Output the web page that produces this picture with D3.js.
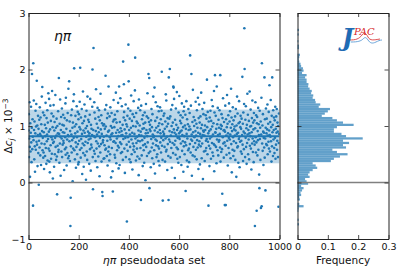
<!DOCTYPE html>
<html><head><meta charset="utf-8">
<script src="https://cdn.jsdelivr.net/npm/d3@7/dist/d3.min.js"></script>
<style>body{margin:0;background:#fff}svg{display:block;font-family:"DejaVu Sans",sans-serif}</style>
</head><body><svg id="c" width="399" height="266"></svg>
<script>
// Δc_j × 10^-3 for each ηπ pseudodata set (index = set number)
const deltaC = [
0.92,1.21,0.45,0.78,1.42,0.63,0.1,1.05,0.55,0.88,1.34,0.71,0.36,0.97,1.92,0.59,1.12,0.81,-0.41,2.11,
0.75,1.45,0.93,0.41,1.08,0.64,0.19,0.87,1.27,0.58,0.99,1.39,0.72,1.80,0.67,1.01,0.29,0.84,1.18,0.52,
0.95,-0.04,0.74,1.11,0.62,1.33,0.86,0.48,1.15,0.83,0.31,1.03,0.69,1.52,0.91,1.69,0.57,0.79,1.24,0.44,
0.53,0.89,0.24,1.19,0.68,1.02,0.47,0.82,1.41,0.61,0.96,0.33,1.14,0.73,0.85,1.28,0.39,1.06,0.77,1.58,
0.6,0.9,1.48,0.37,0.56,0.18,0.94,1.36,0.66,1.09,0.42,0.8,1.22,0.51,1.62,0.76,0.98,0.07,0.7,1.17,
1.37,0.72,0.28,0.92,1.07,0.5,0.79,1.55,0.63,0.97,0.4,0.83,1.13,0.46,-0.21,1.0,0.65,0.87,1.26,0.54,
0.58,1.85,0.86,0.35,1.04,0.69,1.47,0.81,0.12,0.93,1.16,0.55,0.78,1.31,0.45,1.02,0.67,0.89,1.2,0.74,
0.7,1.01,0.22,0.88,1.14,0.59,0.8,1.4,0.49,1.5,0.62,0.95,0.3,1.1,0.76,0.52,1.23,0.84,0.43,1.66,
0.82,0.47,1.79,0.73,1.08,0.38,0.91,-0.77,-0.27,0.64,1.19,0.85,0.53,1.29,0.75,0.97,0.02,1.06,0.6,1.44,
0.79,1.56,2.02,0.57,0.99,0.41,0.87,1.18,0.71,0.26,1.03,0.63,1.35,0.8,0.5,0.9,1.25,0.68,0.32,1.12,
0.36,1.21,0.74,0.98,1.43,0.58,2.03,0.94,0.44,1.15,0.77,0.61,1.3,0.86,0.15,1.05,0.69,1.61,0.52,0.92,
0.28,1.09,0.66,1.38,0.88,0.48,1.17,0.72,0.96,0.05,0.81,1.27,0.55,1.0,0.4,1.52,0.7,0.9,1.11,0.83,
0.76,1.07,0.33,0.87,1.2,0.59,1.48,0.78,0.21,1.02,0.67,0.95,0.62,0.84,1.34,2.0,0.45,-0.12,0.93,2.38,
0.82,0.56,1.42,1.24,0.51,0.8,1.13,0.38,0.91,1.65,0.73,0.6,1.04,0.85,0.27,1.32,0.69,0.97,0.46,1.16,
0.89,1.28,0.64,0.11,1.1,0.79,0.53,1.57,0.94,0.68,1.19,0.37,0.86,1.05,-0.17,-0.24,0.71,0.75,1.01,0.42,
0.81,1.03,0.43,0.66,0.95,1.29,0.58,1.89,0.99,0.6,1.37,0.83,0.47,1.14,0.74,0.3,1.22,0.9,0.55,1.7,
0.63,0.92,0.39,1.17,0.8,0.5,1.33,0.76,1.0,0.09,0.85,1.23,0.61,0.97,0.87,0.2,-0.16,1.08,0.72,1.46,
1.11,0.73,0.98,0.49,1.2,0.44,1.12,0.7,1.59,0.88,0.34,1.06,0.78,0.57,1.26,0.93,0.65,1.41,0.82,0.25,
0.62,1.7,0.89,0.31,1.07,0.71,1.49,0.96,0.52,0.83,0.68,0.91,1.35,0.54,0.84,1.02,0.4,2.14,0.77,1.15,
1.74,1.25,0.6,0.94,0.17,1.1,0.79,1.38,0.45,0.87,1.03,0.67,-0.69,0.99,1.18,0.56,0.8,1.31,2.44,1.79,
0.72,0.93,0.41,1.13,0.85,0.63,1.27,0.36,0.97,1.54,0.76,0.5,1.09,0.88,0.23,1.21,0.69,1.0,0.58,1.44,
0.64,1.16,0.86,0.54,1.63,2.21,0.78,0.99,0.39,1.23,0.7,1.08,0.6,0.81,0.46,1.05,0.74,1.32,0.92,0.13,
1.47,0.84,0.42,1.01,0.73,1.28,0.61,0.9,-0.31,1.36,0.83,0.48,1.12,0.75,0.95,0.29,1.19,0.66,1.04,0.57,
0.96,0.35,0.79,1.24,0.68,1.06,0.04,0.87,1.39,0.63,0.93,1.17,0.47,0.82,1.58,0.71,0.88,1.14,1.92,0.52,
1.07,1.85,-0.1,0.94,1.02,0.55,0.91,0.27,1.1,0.77,1.3,0.62,0.98,0.43,1.21,0.85,0.69,1.52,0.8,0.33,
0.82,0.57,1.68,0.92,0.16,1.09,0.76,1.42,0.66,0.97,0.45,0.74,1.15,0.5,1.35,0.89,0.64,1.0,0.38,1.26,
0.6,1.05,0.3,0.93,1.33,0.71,0.87,1.12,0.53,0.79,1.27,1.96,0.65,1.03,0.4,-0.32,0.9,0.75,1.18,0.84,
0.86,1.22,0.63,0.95,0.37,1.08,0.78,1.56,0.55,1.45,0.58,0.99,0.81,0.22,1.14,0.68,1.04,0.47,-0.31,1.86,
0.76,1.13,0.91,2.01,0.72,1.17,0.44,0.83,1.29,0.61,1.0,0.26,0.89,1.37,0.7,1.06,0.52,1.7,1.68,0.94,
1.48,0.67,0.88,0.08,1.11,0.74,0.49,1.31,0.85,1.02,0.62,1.6,0.93,0.42,0.79,0.59,0.97,0.35,1.24,0.8,
0.87,1.53,0.77,0.45,1.09,0.9,1.19,0.69,1.05,0.31,0.92,1.4,0.56,0.84,1.15,0.73,0.98,0.19,1.26,0.64,
1.34,0.82,0.5,1.01,0.71,1.2,-0.15,0.95,0.66,1.44,0.86,0.39,1.12,0.78,0.28,1.03,0.57,1.3,0.93,0.6,
0.36,0.99,1.23,0.68,2.25,0.94,0.53,1.36,0.76,1.92,0.85,0.12,0.74,1.07,0.48,1.64,0.89,0.63,1.16,0.81,
1.0,0.8,0.46,1.1,0.7,0.91,1.43,0.58,0.83,1.04,0.41,1.28,0.75,0.97,0.62,1.5,0.88,0.24,1.14,0.67,
1.38,0.73,1.06,0.32,0.86,1.17,0.64,0.96,1.59,0.79,0.43,1.02,0.69,1.3,0.84,0.06,0.92,1.21,0.9,0.55,
1.41,0.83,0.38,1.01,0.93,0.56,1.19,0.74,0.61,1.13,0.77,1.82,0.98,0.5,1.25,0.72,0.87,-0.41,1.08,0.65,
0.91,0.29,1.15,0.78,0.6,1.27,0.94,0.42,1.09,0.81,1.46,0.7,0.99,0.53,1.35,0.85,0.47,1.05,0.68,1.62,
0.2,1.24,0.66,1.9,0.89,0.88,1.18,0.63,0.95,0.34,1.7,0.76,1.03,0.57,1.32,0.84,0.48,1.11,0.72,0.97,
0.75,1.28,0.86,0.62,1.9,0.37,1.02,0.95,0.54,1.21,1.0,0.59,-0.2,1.14,0.8,1.49,0.69,0.92,0.44,1.07,
0.93,0.71,-0.4,0.9,1.36,0.65,-0.4,1.12,0.83,0.49,0.98,1.55,0.74,1.04,0.3,0.87,1.19,0.61,0.79,1.4,
0.52,1.08,0.76,1.26,0.85,0.43,0.97,1.66,0.68,1.15,0.18,0.91,1.03,0.58,1.33,0.8,0.47,1.1,0.73,0.94,
0.56,0.99,0.83,1.17,0.4,0.92,1.3,0.7,0.1,1.01,0.86,1.52,0.62,1.22,0.64,0.88,0.35,1.05,0.77,1.44,
0.81,0.27,1.07,0.72,0.98,1.18,0.55,0.95,0.74,1.13,0.51,0.84,1.87,0.67,1.04,0.38,1.24,0.9,0.59,1.39,
2.73,2.01,0.87,0.45,1.11,0.79,1.35,0.63,0.96,0.33,1.02,0.7,1.57,0.85,1.2,0.5,0.93,0.76,1.09,0.41,
0.87,1.61,0.65,0.99,0.82,1.29,0.6,1.0,0.23,0.89,1.14,0.69,1.45,0.78,0.54,1.06,0.94,0.36,1.23,0.73,
1.1,0.67,-0.77,0.96,1.42,0.8,0.53,1.19,0.71,-0.5,1.05,1.16,0.48,0.91,0.75,1.32,0.58,1.03,0.84,0.14,
-0.1,1.27,0.77,0.97,0.4,1.08,-0.45,0.85,1.5,-0.42,2.11,0.69,1.01,0.56,1.21,0.9,0.31,0.79,0.88,0.62,
1.86,0.44,1.12,0.78,-0.14,0.97,1.31,0.68,0.87,1.13,0.66,0.94,1.38,0.5,0.83,1.04,0.72,1.25,0.6,0.92,
1.72,0.84,0.55,1.07,0.81,1.46,0.73,0.98,0.37,1.18,0.64,1.86,0.89,1.02,0.47,1.28,0.76,0.93,1.15,0.61,
0.52,1.1,0.79,1.34,0.42,0.95,0.67,1.17,0.88,1.3,0.58,0.74,1.06,0.9,0.45,1.0,-0.43,0.7,1.22,0.86
];
const meanValue = 0.82;
const bandLow = 0.34, bandHigh = 1.29;

// histogram: bin centres (Δc_j × 10^-3) and frequencies
const histCenters = [-0.78,-0.74,-0.70,-0.66,-0.62,-0.58,-0.54,-0.50,-0.46,-0.42,-0.38,-0.34,-0.30,-0.26,-0.22,-0.18,-0.14,-0.10,-0.06,-0.02,
0.02,0.06,0.10,0.14,0.18,0.22,0.26,0.30,0.34,0.38,0.42,0.46,0.50,0.54,0.58,0.62,0.66,0.70,0.74,0.78,
0.82,0.86,0.90,0.94,0.98,1.02,1.06,1.10,1.14,1.18,1.22,1.26,1.30,1.34,1.38,1.42,1.46,1.50,1.54,1.58,
1.62,1.66,1.70,1.74,1.78,1.82,1.86,1.90,1.94,1.98,2.02,2.06,2.10,2.14,2.18,2.22,2.26,2.30,2.34,2.38,
2.42,2.46,2.50,2.54,2.58,2.62,2.66,2.70,2.74,2.78];
const histFreq = [0,0.005,0,0.004,0,0,0,0.003,0.004,0.02,0.006,0,0.008,0.006,0.012,0.01,0.015,0.02,0.012,0.035,
0.03,0.025,0.04,0.035,0.04,0.05,0.065,0.06,0.05,0.11,0.12,0.14,0.165,0.13,0.115,0.16,0.15,0.17,0.15,0.215,
0.16,0.145,0.12,0.12,0.13,0.185,0.15,0.13,0.115,0.08,0.09,0.1,0.107,0.07,0.075,0.06,0.058,0.05,0.052,0.045,
0.047,0.04,0.035,0.036,0.03,0.03,0.025,0.03,0.015,0.02,0.018,0.012,0.01,0.006,0.004,0.006,0.008,0,0,0.005,
0.005,0,0.003,0,0,0.004,0,0.005,0,0];
const histBinWidth = 0.04;

const xTicks = [0,200,400,600,800,1000];
const yTicks = [-1,0,1,2,3];
const fTicks = [0,0.1,0.2,0.3];

const blue = "#1f77b4";
const svg = d3.select("#c");
const L = {x0:28.5, x1:279.5, y0:13, y1:239};
const R = {x0:297.5, x1:388.5};

const x = d3.scaleLinear().domain([0,1000]).range([L.x0,L.x1]);
const y = d3.scaleLinear().domain([-1,3]).range([L.y1,L.y0]);
const xf = d3.scaleLinear().domain([0,0.3]).range([R.x0,R.x1]);

svg.append("clipPath").attr("id","clipL").append("rect")
  .attr("x",L.x0).attr("y",L.y0).attr("width",L.x1-L.x0).attr("height",L.y1-L.y0);

// ----- left panel -----
const gL = svg.append("g").attr("clip-path","url(#clipL)");
gL.append("rect").attr("x",x(0)).attr("width",x(1000)-x(0))
  .attr("y",y(bandHigh)).attr("height",y(bandLow)-y(bandHigh))
  .attr("fill",blue).attr("fill-opacity",0.3);
gL.selectAll("circle").data(deltaC).enter().append("circle")
  .attr("cx",(d,i)=>x(i)).attr("cy",d=>y(d)).attr("r",1.3).attr("fill",blue);
gL.append("line").attr("x1",x(0)).attr("x2",x(1000)).attr("y1",y(0)).attr("y2",y(0))
  .attr("stroke","#808080").attr("stroke-width",1.3);
gL.append("line").attr("x1",x(0)).attr("x2",x(1000)).attr("y1",y(meanValue)).attr("y2",y(meanValue))
  .attr("stroke",blue).attr("stroke-width",2);

// ----- right panel -----
const gR = svg.append("g");
gR.selectAll("rect.bar").data(histCenters).enter().append("rect").attr("class","bar")
  .attr("x",xf(0)).attr("width",(d,i)=>xf(histFreq[i])-xf(0))
  .attr("y",d=>y(d+histBinWidth/2)).attr("height",d=>y(d-histBinWidth/2)-y(d+histBinWidth/2))
  .attr("fill",blue).attr("fill-opacity",0.7);
gR.append("line").attr("x1",R.x0).attr("x2",R.x1).attr("y1",y(0)).attr("y2",y(0))
  .attr("stroke","#808080").attr("stroke-width",1.3);

// ----- axes -----
function styleAxis(g){
  g.selectAll(".domain").attr("stroke","#222").attr("stroke-width",1);
  g.selectAll(".tick line").attr("stroke","#222").attr("stroke-width",0.8);
  g.selectAll("text").attr("fill","#111").style("font-size","9.5px").style("font-family","DejaVu Sans");
}
const ax = (gen, tx, ty) => svg.append("g").attr("transform",`translate(${tx},${ty})`).call(gen).call(styleAxis);

ax(d3.axisBottom(x).tickValues(xTicks).tickFormat(d3.format("d")).tickSizeInner(-4).tickSizeOuter(0).tickPadding(4),0,L.y1);
ax(d3.axisTop(x).tickValues(xTicks).tickFormat("").tickSizeInner(-4).tickSizeOuter(0),0,L.y0);
ax(d3.axisLeft(y).tickValues(yTicks).tickFormat(d=>d<0?"\u2212"+Math.abs(d):d).tickSizeInner(-4).tickSizeOuter(0).tickPadding(3),L.x0,0);
ax(d3.axisRight(y).tickValues(yTicks).tickFormat("").tickSizeInner(-4).tickSizeOuter(0),L.x1,0);

ax(d3.axisBottom(xf).tickValues(fTicks).tickFormat(d=>d===0?"0":d3.format(".1f")(d)).tickSizeInner(-4).tickSizeOuter(0).tickPadding(4),0,L.y1);
ax(d3.axisTop(xf).tickValues(fTicks).tickFormat("").tickSizeInner(-4).tickSizeOuter(0),0,L.y0);
ax(d3.axisLeft(y).tickValues(yTicks).tickFormat("").tickSizeInner(-4).tickSizeOuter(0),R.x0,0);
ax(d3.axisRight(y).tickValues(yTicks).tickFormat("").tickSizeInner(-4).tickSizeOuter(0),R.x1,0);

// ----- labels -----
const xl = svg.append("text").attr("x",(L.x0+L.x1)/2).attr("y",264).attr("text-anchor","middle")
  .style("font-size","11px").attr("fill","#111");
xl.append("tspan").style("font-style","italic").text("ηπ");
xl.append("tspan").text(" pseudodata set");

svg.append("text").attr("x",(R.x0+R.x1)/2).attr("y",264).attr("text-anchor","middle")
  .style("font-size","10.5px").attr("fill","#111").text("Frequency");

const yl = svg.append("text").attr("transform",`translate(12,${(L.y0+L.y1)/2}) rotate(-90)`)
  .attr("text-anchor","middle").style("font-size","10.5px").attr("fill","#111");
yl.append("tspan").text("Δ");
yl.append("tspan").style("font-style","italic").text("c");
yl.append("tspan").style("font-style","italic").style("font-size","7.5px").attr("dy","2").text("j");
yl.append("tspan").attr("dy","-2").text(" × 10");
yl.append("tspan").style("font-size","7.5px").attr("dy","-4").text("\u22123");

svg.append("text").attr("x",54).attr("y",41).style("font-size","14px").style("font-style","italic")
  .attr("fill","#111").text("ηπ");

// ----- JPAC logo -----
const logo = svg.append("g");
logo.append("path").attr("d","M349,40 C356,40 359,39 362,35 C364,32 366,33 368,37 C370,41 374,40 380,39")
  .attr("fill","none").attr("stroke","#d62728").attr("stroke-width",0.8);
logo.append("path").attr("d","M351,42 C358,42 361,41 363,39 C365,37 366,37 368,40 C370,43 372,44 376,42 C378,41 380,40 382,40")
  .attr("fill","none").attr("stroke","#4a90d0").attr("stroke-width",0.8);
logo.append("text").attr("x",342).attr("y",46).style("font-family","DejaVu Serif").style("font-size","24px")
  .style("font-style","italic").style("font-weight","bold").attr("fill","#1f6bb4").text("J");
logo.append("text").attr("x",354).attr("y",35).style("font-family","DejaVu Serif").style("font-size","10px")
  .style("font-style","italic").attr("fill","#d62728").text("PAC");
</script></body></html>
